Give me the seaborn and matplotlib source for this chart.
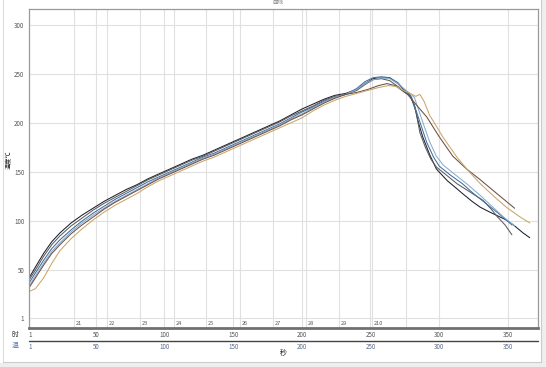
import numpy as np
import pandas as pd
import matplotlib
matplotlib.use("Agg")
import matplotlib.pyplot as plt
import matplotlib.transforms as mtrans
from matplotlib.patches import Rectangle
from matplotlib.lines import Line2D
import seaborn as sns

sns.set_style("white")
plt.rcParams['font.family'] = ['Noto Sans CJK SC', 'DejaVu Sans']

# ---------------- data ----------------
rise_t = [1, 6, 12, 18, 24, 32, 40, 48, 56, 64, 72, 80, 88, 96, 104, 112, 120,
          128, 136, 144, 152, 160, 168, 176, 184, 192, 200, 208, 216, 224, 232]

black_t = rise_t + [240, 246, 252, 258, 264, 270, 274, 278, 282, 285, 288, 293, 298,
                    306, 312, 317, 324, 330, 337, 343, 349, 355, 361, 366]
black_v = [41, 53, 67, 79, 88, 98, 106, 113, 120, 126, 132, 137, 143, 148, 153, 158, 163,
           167, 172, 177, 182, 187, 192, 197, 202, 208, 214, 219, 224, 228, 230,
           234, 240, 245, 246, 246, 240, 234, 230, 218, 200, 186, 168, 153,
           141, 134, 128, 120, 114, 109, 105, 101, 95, 88, 83]

gray_t = rise_t + [240, 246, 252, 258, 264, 270, 275, 279, 283, 286, 290, 294, 298,
                   306, 313, 322, 332, 338, 342, 348, 353]
gray_v = [39, 50, 64, 76, 85, 95, 103, 111, 118, 124, 130, 136, 142, 147, 152, 157, 162,
          166, 171, 176, 181, 186, 191, 196, 201, 207, 212, 217, 223, 227, 229,
          233, 239, 244, 245, 243, 237, 231, 228, 212, 190, 175, 163, 155,
          146, 138, 130, 121, 112, 105, 96, 86]

steel_t = rise_t + [240, 246, 252, 258, 264, 270, 275, 280, 285, 291, 296, 300,
                    308, 317, 325, 334, 343, 353]
steel_v = [36, 47, 60, 72, 81, 91, 100, 108, 115, 122, 128, 134, 140, 145, 150, 155, 160,
           165, 169, 174, 179, 184, 189, 194, 199, 205, 211, 216, 222, 226, 229,
           235, 242, 246, 247, 246, 241, 233, 226, 205, 180, 165, 156,
           147, 138, 128, 118, 108, 96]

light_t = rise_t + [240, 246, 252, 258, 264, 270, 276, 282, 288, 293, 298, 303,
                    311, 320, 330, 340, 347, 355]
light_v = [33, 44, 57, 69, 78, 89, 98, 106, 113, 120, 126, 132, 138, 144, 149, 154, 159,
           164, 168, 173, 178, 183, 188, 193, 198, 204, 209, 215, 221, 226, 229,
           234, 240, 244, 246, 245, 240, 233, 226, 201, 181, 166, 157,
           148, 138, 126, 113, 104, 95]

brown_t = rise_t + [240, 248, 256, 262, 268, 273, 277, 283, 291, 300, 310, 320,
                    330, 342, 355]
brown_v = [31, 42, 55, 67, 76, 87, 96, 104, 112, 119, 125, 131, 137, 143, 148, 153, 158,
           163, 167, 172, 177, 182, 187, 192, 197, 203, 208, 214, 220, 225, 229,
           231, 234, 238, 240, 238, 233, 229, 219, 206, 186, 166, 153,
           142, 128, 113]

gold_t = rise_t + [240, 248, 256, 263, 269, 274, 279, 283, 286, 289, 293, 303, 313,
                   322, 330, 340, 349, 358, 366]
gold_v = [28, 31, 42, 57, 70, 82, 92, 101, 109, 116, 122, 128, 135, 141, 146, 151, 156,
          161, 165, 170, 175, 180, 185, 190, 195, 200, 205, 212, 218, 223, 227,
          230, 233, 236, 238, 237, 233, 230, 227, 229, 222, 208, 185, 165,
          150, 138, 125, 114, 105, 98]

series_names = ["s1", "s2", "s3", "s4", "s5", "s6"]
series_t = [black_t, gray_t, steel_t, light_t, brown_t, gold_t]
series_v = [black_v, gray_v, steel_v, light_v, brown_v, gold_v]
colors = ["#1e1e32", "#5c5c5c", "#3f6f9e", "#8aaccc", "#6e4e46", "#c9a66a"]

y_ticks = [1, 50, 100, 150, 200, 250, 300]
time_ticks = [1, 50, 100, 150, 200, 250, 300, 350]
marker_pos = [34, 58, 82, 107, 130, 155, 179, 203, 227, 251, 276]
marker_labels = ["21", "22", "23", "24", "25", "26", "27", "28", "29", "210"]

title_text = "曲线"
y_label = "温度℃"
x_label = "秒"
row1_label = "时"
row2_label = "温"

rows = []
for name, tt, vv in zip(series_names, series_t, series_v):
    for a, b in zip(tt, vv):
        rows.append((name, a, b))
df = pd.DataFrame(rows, columns=["series", "t", "v"])

# ---------------- figure ----------------
W, H = 546, 367
fig = plt.figure(figsize=(W / 100, H / 100), dpi=100)
fig.patch.set_facecolor("white")

L, R, T, B = 28.5, 538, 9, 328
ax = fig.add_axes([L / W, 1 - B / H, (R - L) / W, (B - T) / H])
ax.set_facecolor("white")

for x in time_ticks[1:] + marker_pos:
    ax.axvline(x, color="#e0e0e0", lw=0.8, zorder=0)
for y in y_ticks:
    ax.axhline(y, color="#e0e0e0", lw=0.8, zorder=0)

sns.lineplot(data=df, x="t", y="v", hue="series", palette=dict(zip(series_names, colors)),
             estimator=None, sort=False, legend=False, lw=0.75, ax=ax)

ax.set_xlim(1, 372)
ax.set_ylim(-9, 316)
ax.set_xlabel("")
ax.set_ylabel("")
ax.set_yticks(y_ticks)
ax.set_yticklabels([str(v) for v in y_ticks], fontsize=4.5, color="#555555")
ax.set_xticks(time_ticks[1:])
ax.set_xticklabels([])
ax.tick_params(axis="y", length=2, width=0.6, color="#777777", pad=1)
ax.tick_params(axis="x", length=2, width=0.6, color="#777777", direction="out")

for side in ["left", "top", "right"]:
    ax.spines[side].set_color("#9a9a9a")
    ax.spines[side].set_linewidth(0.9)
ax.spines["bottom"].set_color("#707070")
ax.spines["bottom"].set_linewidth(2)

for x, lab in zip(marker_pos, marker_labels):
    ax.text(x + 1.2, -4, lab, fontsize=4, color="#555555", va="center", ha="left")

# rows below the axes
bt = mtrans.blended_transform_factory(ax.transData, fig.transFigure)
y1 = 1 - 335 / H
y2 = 1 - 347 / H
for x in time_ticks:
    ha = "left" if x == 1 else "center"
    fig.text(x, y1, str(x), transform=bt, fontsize=4.5, color="#555555", ha=ha, va="center")
    fig.text(x, y2, str(x), transform=bt, fontsize=4.5, color="#5a6a8a", ha=ha, va="center")
fig.add_artist(Line2D([L / W, R / W], [1 - 341 / H, 1 - 341 / H], color="#444444", lw=1.0))

fig.text(15 / W, y1, row1_label, fontsize=5, color="#333333", ha="center", va="center")
fig.text(15 / W, y2 + 0.004, row2_label, fontsize=5, color="#5a78b0", ha="center", va="center")
fig.text(283 / W, 1 - 353 / H, x_label, fontsize=5, color="#222222", ha="center", va="center")
fig.text(8 / W, 1 - 160 / H, y_label, fontsize=4.5, color="#222222", rotation=90,
         ha="center", va="center")
fig.text(278 / W, 1 - 0.5 / H, title_text, fontsize=4, color="#888888", ha="center", va="top")

# window frame
fig.add_artist(Line2D([3 / W, 3 / W], [1 - 362 / H, 1], color="#dddddd", lw=0.8))
fig.add_artist(Line2D([541 / W, 541 / W], [1 - 362 / H, 1], color="#cccccc", lw=0.8))
fig.add_artist(Line2D([3 / W, 541 / W], [1 - 362 / H, 1 - 362 / H], color="#cccccc", lw=0.8))
fig.add_artist(Rectangle((542 / W, 0), 4 / W, 1, transform=fig.transFigure,
                         color="#eeeeee", zorder=-1))
fig.add_artist(Rectangle((0, 0), 1, 4.5 / H, transform=fig.transFigure,
                         color="#eeeeee", zorder=-1))

fig.savefig("out.png", dpi=100)
